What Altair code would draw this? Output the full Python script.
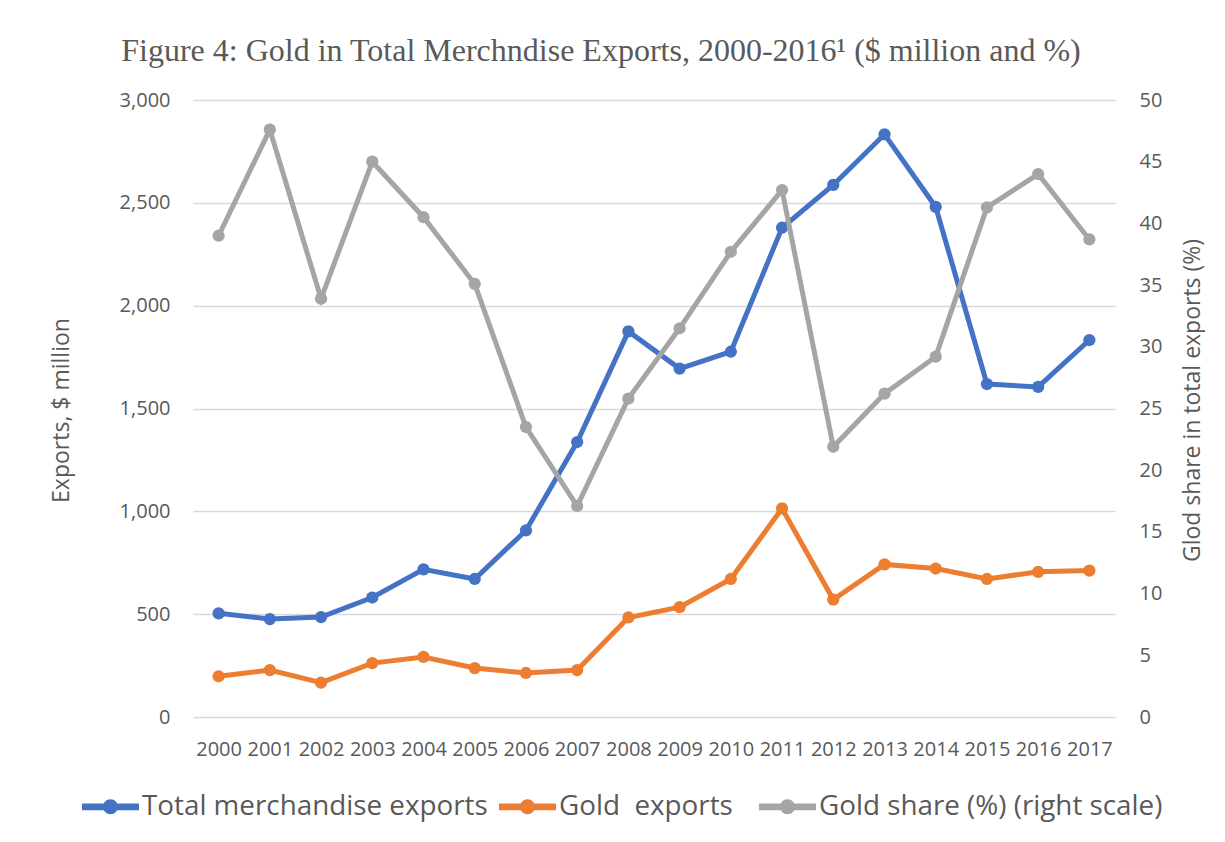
import altair as alt
import pandas as pd

years = list(range(2000, 2018))
total_exports = [504, 476, 486, 581, 718, 671, 907, 1337, 1875, 1694, 1776, 2379, 2587, 2833, 2480, 1619, 1605, 1833]
gold_exports = [198, 228, 167, 262, 292, 238, 214, 228, 484, 534, 671, 1014, 571, 742, 722, 671, 706, 712]
gold_share = [39.0, 47.6, 33.9, 45.0, 40.5, 35.1, 23.5, 17.1, 25.8, 31.5, 37.7, 42.7, 21.9, 26.2, 29.2, 41.3, 44.0, 38.7]

series_names = ["Total merchandise exports", "Gold  exports", "Gold share (%) (right scale)"]
series_colors = ["#4472C4", "#ED7D31", "#A5A5A5"]
left_ticks = [0, 500, 1000, 1500, 2000, 2500, 3000]
right_ticks = [0, 5, 10, 15, 20, 25, 30, 35, 40, 45, 50]

title_text = "Figure 4: Gold in Total Merchndise Exports, 2000-2016\u00b9 ($ million and %)"
left_title = "Exports, $ million"
right_title = "Glod share in total exports (%)"

left_df = pd.DataFrame({
    "year": years + years,
    "value": total_exports + gold_exports,
    "series": [series_names[0]] * len(years) + [series_names[1]] * len(years),
})
right_df = pd.DataFrame({
    "year": years,
    "value": gold_share,
    "series": [series_names[2]] * len(years),
})

TXT = "#595959"
FONT = "Open Sans"
NB = "\u00a0"
ZW = "\u200b"

legend_path = (
    "M-1,-0.116L-0.24,-0.116L-0.24,0.116L-1,0.116Z"
    "M0.24,-0.116L1,-0.116L1,0.116L0.24,0.116Z"
    "M-0.263,0A0.263,0.263 0 1,1 0.263,0A0.263,0.263 0 1,1 -0.263,0Z"
)

gold_label = "Gold" + NB + " exports" + NB * 2 + ZW
label_expr = "datum.label == 'Gold  exports' ? '" + gold_label + "' : datum.label"

legend = alt.Legend(
    title=None, orient="none", legendX=-111, legendY=678, direction="horizontal",
    symbolType=legend_path, symbolSize=3249, symbolStrokeWidth=0,
    labelFont=FONT, labelFontSize=27.8, labelColor=TXT, labelOffset=3,
    columnPadding=11, padding=0, labelLimit=800, labelExpr=label_expr,
)

color = alt.Color("series:N", scale=alt.Scale(domain=series_names, range=series_colors), legend=legend)

x_enc = alt.X(
    "year:O",
    scale=alt.Scale(type="point", padding=0.5),
    axis=alt.Axis(title=None, labelAngle=0, ticks=False, domain=False, grid=False,
                  labelFont=FONT, labelFontSize=20, labelColor=TXT, labelPadding=22),
)

point_def = alt.OverlayMarkDef(filled=True, size=150, opacity=1)

right_layer = alt.Chart(right_df).mark_line(strokeWidth=5, point=point_def).encode(
    x=x_enc,
    y=alt.Y("value:Q", scale=alt.Scale(domain=[0, 50], nice=False),
            axis=alt.Axis(orient="right", values=right_ticks, grid=False, ticks=False, domain=False,
                          labelFont=FONT, labelFontSize=20, labelColor=TXT, labelPadding=24,
                          title=right_title, titleFont=FONT, titleFontSize=23, titleColor=TXT,
                          titleFontWeight="normal", titleAngle=270, titleAlign="center",
                          titleBaseline="alphabetic", titleX=84, titleY=300)),
    color=color,
)

left_layer = alt.Chart(left_df).mark_line(strokeWidth=5, point=point_def).encode(
    x=x_enc,
    y=alt.Y("value:Q", scale=alt.Scale(domain=[0, 3000], nice=False),
            axis=alt.Axis(orient="left", values=left_ticks, format=",.0f", grid=True,
                          gridColor="#D9D9D9", gridWidth=1.3, ticks=False, domain=False,
                          labelFont=FONT, labelFontSize=20, labelColor=TXT, labelPadding=23,
                          title=left_title, titleFont=FONT, titleFontSize=23, titleColor=TXT,
                          titleFontWeight="normal", titleAngle=270, titleAlign="center",
                          titleBaseline="alphabetic", titleX=-125, titleY=310)),
    color=color,
    detail="series:N",
)

chart = alt.layer(left_layer, right_layer).resolve_scale(y="independent").properties(
    width=922,
    height=617,
    autosize=alt.AutoSizeParams(type="none"),
    padding={"left": 185, "top": 92, "right": 90, "bottom": 110},
    title=alt.TitleParams(text=title_text, font="Liberation Serif", fontSize=32, fontWeight="normal",
                          color=TXT, anchor="middle", frame="group", dx=-53, offset=22),
).configure(background="white").configure_view(stroke="transparent", strokeWidth=0)

chart.save("out.html", embed_options={"renderer": "svg", "actions": False})
